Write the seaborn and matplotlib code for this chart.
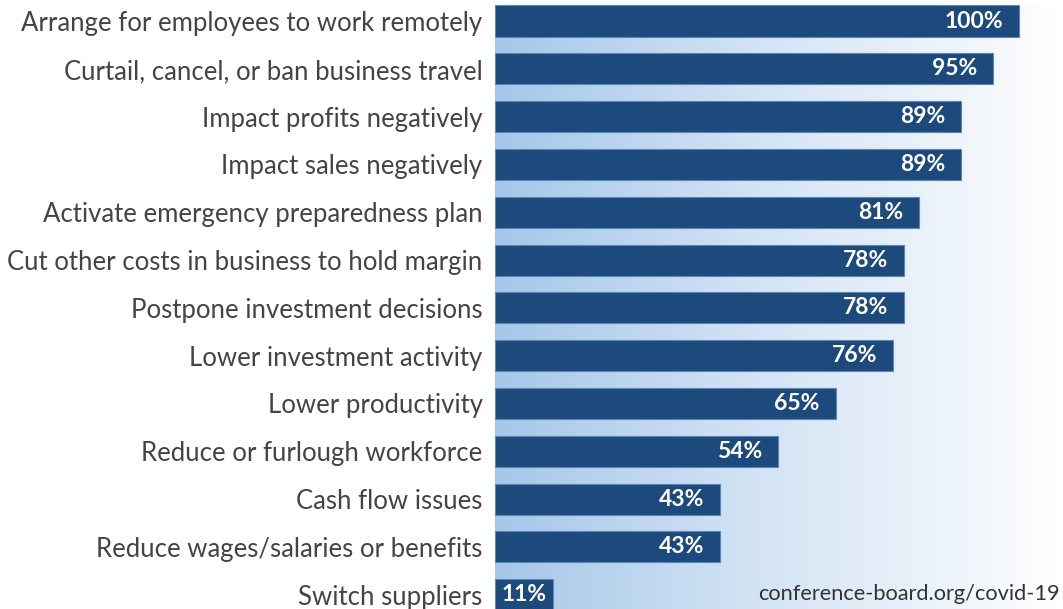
import numpy as np
import pandas as pd
import matplotlib
matplotlib.use("Agg")
import matplotlib.pyplot as plt
from matplotlib.colors import LinearSegmentedColormap
import seaborn as sns

categories = [
    "Arrange for employees to work remotely",
    "Curtail, cancel, or ban business travel",
    "Impact profits negatively",
    "Impact sales negatively",
    "Activate emergency preparedness plan",
    "Cut other costs in business to hold margin",
    "Postpone investment decisions",
    "Lower investment activity",
    "Lower productivity",
    "Reduce or furlough workforce",
    "Cash flow issues",
    "Reduce wages/salaries or benefits",
    "Switch suppliers",
]
values = [100, 95, 89, 89, 81, 78, 78, 76, 65, 54, 43, 43, 11]
source_note = "conference-board.org/covid-19"

df = pd.DataFrame({"action": categories, "share": values})

sns.set_theme(style="white")
plt.rcParams["font.family"] = ["Lato", "DejaVu Sans"]

fig = plt.figure(figsize=(10.63, 6.09), dpi=100)
ax = fig.add_axes([495 / 1063, 0, 1 - 495 / 1063, 1])

BAR = "#1d4a7c"
sns.barplot(data=df, x="share", y="action", orient="h", color=BAR,
            width=0.65, saturation=1, edgecolor="#5a86b8", linewidth=0.8,
            ax=ax, zorder=3)

xmax = 108.4
ymin, ymax = -0.44, 12.30

# light blue background fading to white towards the right
cmap = LinearSegmentedColormap.from_list(
    "bg", [(0, "#a6c7e9"), (0.45, "#d2e3f4"), (0.8, "#eef4fb"), (1, "#ffffff")])
grad = np.linspace(0, 1, 512)[None, :]
ax.imshow(grad, cmap=cmap, extent=[0, xmax, ymax, -0.325], aspect="auto",
          zorder=0, interpolation="bicubic")
ax.set_xlim(0, xmax)
ax.set_ylim(ymax, ymin)

for s in ax.spines.values():
    s.set_visible(False)
ax.set_xticks([])
ax.set_xlabel("")
ax.set_ylabel("")
ax.tick_params(axis="y", length=0, pad=9)
for lab in ax.get_yticklabels():
    lab.set_fontsize(18.5)
    lab.set_color("#444444")

# value labels inside the bar ends; short bars get a left-aligned label
for i, v in enumerate(values):
    if v < 15:
        ax.text(1.3, i, f"{v}%", ha="left", va="center", color="white",
                fontsize=16.5, fontweight="bold", zorder=4)
    else:
        ax.text(v - 3.0, i, f"{v}%", ha="right", va="center", color="white",
                fontsize=16.5, fontweight="bold", zorder=4)

ax.text(0.995, 0.025, source_note, transform=ax.transAxes, ha="right",
        va="center", fontsize=15.7, color="#333333", zorder=4)

fig.savefig("out.png", dpi=100)
